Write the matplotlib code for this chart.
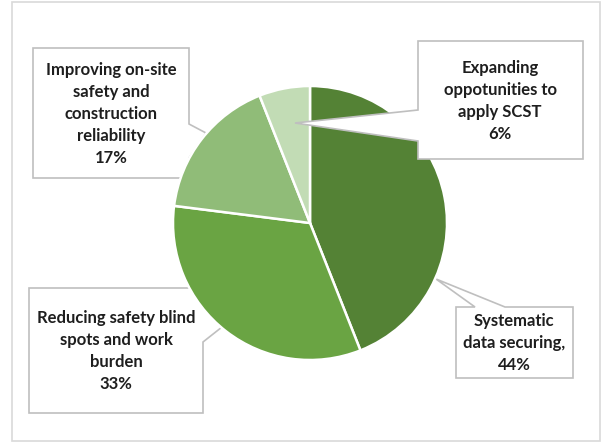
import matplotlib.pyplot as plt
from matplotlib.patches import Polygon, Rectangle

W, H = 609, 444

# slice data, clockwise from 12 o'clock
labels = ["Systematic\ndata securing,",
          "Reducing safety blind\nspots and work\nburden",
          "Improving on-site\nsafety and\nconstruction\nreliability",
          "Expanding\noppotunities to\napply SCST"]
shares = [44, 33, 17, 6]
colors = ["#548235", "#6aa443", "#90bc78", "#c2dcb5"]

plt.rcParams["font.family"] = ["Lato", "DejaVu Sans"]


def flip(pts):
    # layout points are given top-down, axes run bottom-up
    return [(x, H - y) for x, y in pts]


fig = plt.figure(figsize=(W / 100, H / 100), dpi=100)
ax = fig.add_axes([0, 0, 1, 1])

# chart area border
ax.add_patch(Rectangle((12, H - 441), 588, 439, fill=False,
                       edgecolor="#d9d9d9", linewidth=1.2, zorder=0))

ax.pie(shares, colors=colors, startangle=90, counterclock=False,
       center=(310, H - 223), radius=137, frame=True,
       wedgeprops=dict(edgecolor="white", linewidth=1.8, zorder=2))
ax.set_xlim(0, W)
ax.set_ylim(0, H)
ax.axis("off")

# callout outlines (box + pointer), and where each text block sits
callouts = [
    # Systematic
    ([(456, 307), (475, 307), (436, 279), (505, 307), (573, 307),
      (573, 378), (456, 378)], (514, 343), 1),
    # Reducing
    ([(29, 288), (203, 288), (203, 305), (222, 327), (203, 342),
      (203, 413), (29, 413)], (116, 351), 1),
    # Improving
    ([(33, 48), (189, 48), (189, 124), (206, 133), (189, 158),
      (189, 178), (33, 178)], (111, 114), 1),
    # Expanding
    ([(418, 41), (583, 41), (583, 159), (418, 159), (418, 141),
      (295, 123), (418, 110)], (500, 101), 3),
]

for (outline, (tx, ty), z), lab, pct in zip(callouts, labels, shares):
    ax.add_patch(Polygon(flip(outline), closed=True, facecolor="white",
                         edgecolor="#bfbfbf", linewidth=1.2, zorder=z))
    ax.text(tx, H - ty, f"{lab}\n{pct}%", ha="center", va="center",
            fontsize=12, fontweight="bold", color="#1e1e1e",
            linespacing=1.45, zorder=z + 0.5)

fig.savefig("out.png", dpi=100)
